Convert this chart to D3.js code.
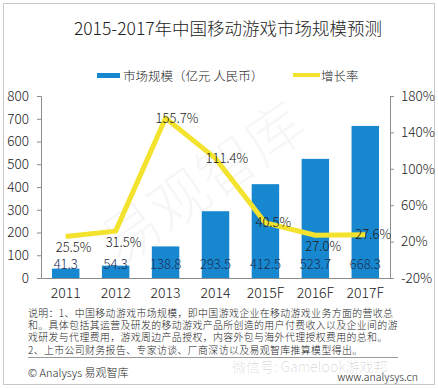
<!DOCTYPE html>
<html>
<head>
<meta charset="utf-8">
<script src="https://cdn.jsdelivr.net/npm/d3@7"></script>
<style>
  body { margin: 0; background: #fff; }
  svg { display: block; font-family: "Noto Sans CJK SC", "Microsoft YaHei", sans-serif; font-weight: 300; }
</style>
</head>
<body>
<div id="chart"></div>
<script>
// data
var years = ["2011", "2012", "2013", "2014", "2015F", "2016F", "2017F"];
var marketSize = [41.3, 54.3, 138.8, 293.5, 412.5, 523.7, 668.3];
var growthRate = [25.5, 31.5, 155.7, 111.4, 40.5, 27.0, 27.6];
var leftTicks = [0, 100, 200, 300, 400, 500, 600, 700, 800];
var rightTicks = [-20, 20, 60, 100, 140, 180];
var title = "2015-2017年中国移动游戏市场规模预测";
var legendNames = ["市场规模（亿元 人民币）", "增长率"];
var notes = [
    "说明：1、中国移动游戏市场规模，即中国游戏企业在移动游戏业务方面的营收总",
    "和。具体包括其运营及研发的移动游戏产品所创造的用户付费收入以及企业间的游",
    "戏研发与代理费用，游戏周边产品授权，内容外包与海外代理授权费用的总和。",
    "2、上市公司财务报告、专家访谈、厂商深访以及易观智库推算模型得出。"
];

var W = 438, H = 389;
var margin = { left: 41, right: 48, top: 96, bottom: 111 };
var barColor = "#1787d0", lineColor = "#f3e32e", axisColor = "#8c8c8c";

var svg = d3.select("#chart").append("svg")
    .attr("width", W).attr("height", H);

// outer frame
svg.append("rect")
    .attr("x", 3.5).attr("y", 3.5)
    .attr("width", W - 7).attr("height", H - 8)
    .attr("fill", "#fff").attr("stroke", "#c8c8c8");

// faint watermark
svg.append("text")
    .attr("transform", "translate(215,200) rotate(-35)")
    .attr("text-anchor", "middle")
    .attr("font-size", 58)
    .attr("fill", "#000").attr("fill-opacity", 0.035)
    .text("易观智库");

svg.append("text")
    .attr("x", 228).attr("y", 27)
    .attr("text-anchor", "middle").attr("dominant-baseline", "central")
    .attr("font-size", 17.5).attr("fill", "#222")
    .text(title);

// legend
var lg = svg.append("g");
lg.append("rect").attr("x", 97).attr("y", 73).attr("width", 23).attr("height", 5).attr("fill", barColor);
lg.append("text").attr("x", 123).attr("y", 75.5).attr("dominant-baseline", "central")
    .attr("font-size", 12.5).attr("fill", "#222").text(legendNames[0]);
lg.append("rect").attr("x", 293).attr("y", 73).attr("width", 27).attr("height", 4).attr("fill", lineColor);
lg.append("text").attr("x", 321).attr("y", 75.5).attr("dominant-baseline", "central")
    .attr("font-size", 12.5).attr("fill", "#222").text(legendNames[1]);

// scales
var x = d3.scaleBand()
    .domain(years)
    .range([margin.left, W - margin.right])
    .paddingInner(0.45).paddingOuter(0.22);
var yLeft = d3.scaleLinear().domain([0, 800]).range([H - margin.bottom, margin.top]);
var yRight = d3.scaleLinear().domain([-20, 180]).range([H - margin.bottom, margin.top]);

// axes
var leftAxis = d3.axisLeft(yLeft).tickValues(leftTicks).tickSizeOuter(0).tickSize(4).tickPadding(8);
var rightAxis = d3.axisRight(yRight).tickValues(rightTicks).tickSizeOuter(0).tickSize(4)
    .tickPadding(7).tickFormat(function(d) { return d + "%"; });
var bottomAxis = d3.axisBottom(x).tickSize(0).tickPadding(10);

function styleAxis(g, size) {
    g.selectAll("path, line").attr("stroke", axisColor);
    g.selectAll("text").attr("font-size", size).attr("fill", "#222")
        .attr("font-family", "'Noto Sans CJK SC', sans-serif");
}

svg.append("g")
    .attr("transform", "translate(" + margin.left + ",0)")
    .call(leftAxis).call(styleAxis, 13.5);
svg.append("g")
    .attr("transform", "translate(" + (W - margin.right) + ",0)")
    .call(rightAxis).call(styleAxis, 13.5);
svg.append("g")
    .attr("transform", "translate(0," + (H - margin.bottom) + ")")
    .call(bottomAxis).call(styleAxis, 14);

// bars
svg.append("g").selectAll("rect")
    .data(marketSize)
    .enter().append("rect")
    .attr("x", function(d, i) { return x(years[i]); })
    .attr("y", function(d) { return yLeft(d); })
    .attr("width", x.bandwidth())
    .attr("height", function(d) { return yLeft(0) - yLeft(d); })
    .attr("fill", barColor);

svg.append("g").selectAll("text")
    .data(marketSize)
    .enter().append("text")
    .attr("x", function(d, i) { return x(years[i]) + x.bandwidth() / 2; })
    .attr("y", yLeft(0) - 15)
    .attr("text-anchor", "middle").attr("dominant-baseline", "central")
    .attr("font-size", 13).attr("fill", "#1d2f52")
    .text(function(d) { return d.toFixed(1); });

// growth line
var cx = function(i) { return x(years[i]) + x.bandwidth() / 2; };
var valueLine = d3.line()
    .x(function(d, i) { return cx(i); })
    .y(function(d) { return yRight(d); });
svg.append("path")
    .datum(growthRate)
    .attr("d", valueLine)
    .attr("fill", "none")
    .attr("stroke", lineColor)
    .attr("stroke-width", 5)
    .attr("stroke-linejoin", "round");

// growth labels: dropped below the point where the line keeps rising
svg.append("g").selectAll("text")
    .data(growthRate)
    .enter().append("text")
    .attr("x", function(d, i) { return cx(i) - 10; })
    .attr("y", function(d, i) {
        var rising = i < growthRate.length - 1 && growthRate[i + 1] > d;
        return yRight(d) + (rising ? 10 : -1);
    })
    .attr("dominant-baseline", "central")
    .attr("font-size", 13).attr("fill", "#222")
    .text(function(d) { return d.toFixed(1) + "%"; });

// notes
svg.append("g").selectAll("text")
    .data(notes)
    .enter().append("text")
    .attr("x", 28)
    .attr("y", function(d, i) { return 313 + i * 11.8 + (i === 3 ? 1.5 : 0); })
    .attr("dominant-baseline", "central")
    .attr("font-size", 9.9).attr("letter-spacing", 0.4).attr("fill", "#222")
    .text(function(d) { return d; });

svg.append("line")
    .attr("x1", 28).attr("x2", 398).attr("y1", 357.5).attr("y2", 357.5)
    .attr("stroke", "#9a9a9a").attr("stroke-width", 1);

svg.append("text")
    .attr("x", 232).attr("y", 366).attr("dominant-baseline", "central")
    .attr("font-size", 14).attr("fill", "#000").attr("fill-opacity", 0.16)
    .text("微信号: Gamelook游戏邦");

svg.append("text")
    .attr("x", 28).attr("y", 372).attr("dominant-baseline", "central")
    .attr("font-size", 11).attr("fill", "#222")
    .text("© Analysys 易观智库");
svg.append("text")
    .attr("x", 418).attr("y", 376).attr("text-anchor", "end").attr("dominant-baseline", "central")
    .attr("font-size", 10.5).attr("fill", "#222")
    .text("www.analysys.cn");
</script>
</body>
</html>
